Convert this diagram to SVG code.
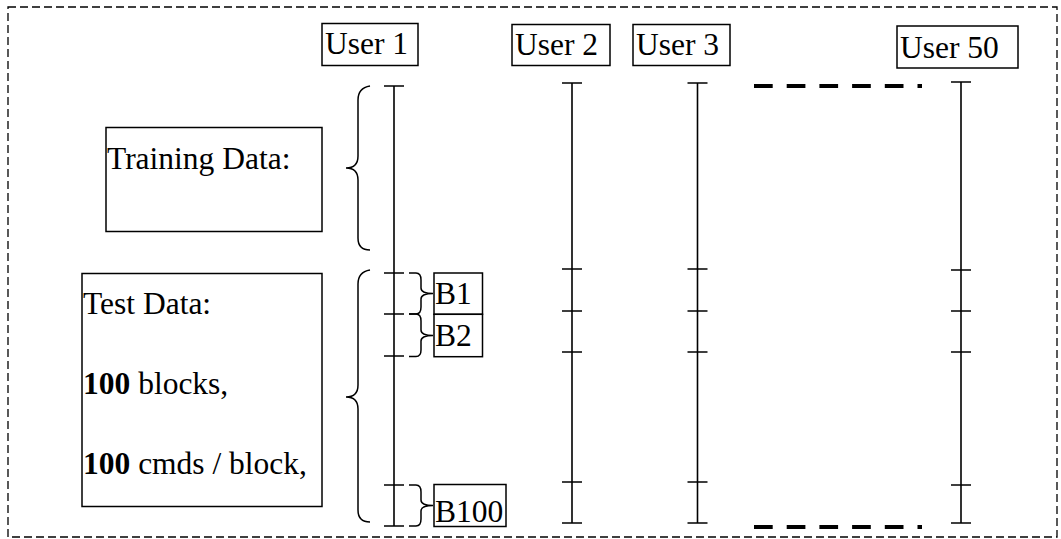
<svg xmlns="http://www.w3.org/2000/svg" width="1061" height="539" viewBox="0 0 1061 539">
<style>
text{font-family:"Liberation Serif","Times New Roman","DejaVu Serif",serif;font-size:31.5px;fill:#000}
.box{fill:#fff;stroke:#000;stroke-width:1.5}
.ln{fill:none;stroke:#000;stroke-width:1.6}
.br{fill:none;stroke:#000;stroke-width:1.5}
.thick{fill:none;stroke:#000;stroke-width:4;stroke-dasharray:18.7 14}
</style>
<rect x="8" y="7" width="1049" height="530" fill="none" stroke="#000" stroke-width="1.3" stroke-dasharray="8 4"/>
<g id="user1">
<rect class="box" x="322" y="23.5" width="96" height="42"/>
<text x="325" y="54">User 1</text>
</g>
<g id="user2">
<rect class="box" x="512" y="24.5" width="98" height="41"/>
<text x="515" y="55">User 2</text>
</g>
<g id="user3">
<rect class="box" x="633" y="24.5" width="97" height="41"/>
<text x="636" y="55">User 3</text>
</g>
<g id="user50">
<rect class="box" x="897" y="26" width="121" height="42"/>
<text x="900" y="57.5">User 50</text>
</g>
<g id="training">
<rect class="box" x="106" y="127.5" width="216" height="104"/>
<text x="107" y="168.5">Training Data:</text>
</g>
<g id="test">
<rect class="box" x="82" y="273.5" width="240" height="233"/>
<text x="83" y="313.5">Test Data:</text>
<text x="83" y="393.5"><tspan font-weight="bold">100</tspan> blocks,</text>
<text x="83" y="473.5"><tspan font-weight="bold">100</tspan> cmds / block,</text>
</g>
<g id="b1">
<rect class="box" x="434" y="273" width="48.5" height="41.3"/>
<text x="435" y="303.5">B1</text>
</g>
<g id="b2">
<rect class="box" x="434" y="314.3" width="48.5" height="42.4"/>
<text x="435" y="345.5">B2</text>
</g>
<g id="b100">
<rect class="box" x="434" y="484.5" width="72" height="42"/>
<text x="435" y="521.5">B100</text>
</g>
<g id="connectors">
<path class="ln" d="M394,86V526 M384,86H404 M384,526H404 M384,273H404 M384,314H404 M384,356H404 M384,485H404"/>
<path class="ln" d="M572,83V523 M562,83H582 M562,523H582 M562,269H582 M562,311H582 M562,352H582 M562,482H582"/>
<path class="ln" d="M697.5,83V523 M687.5,83H707.5 M687.5,523H707.5 M687.5,269H707.5 M687.5,311H707.5 M687.5,352H707.5 M687.5,482H707.5"/>
<path class="ln" d="M961,82V523 M951,82H971 M951,523H971 M951,270H971 M951,311H971 M951,352H971 M951,485H971"/>
<path class="br" d="M370,86 Q358,88 358,100 L358,156 Q358,168 346,168 Q358,168 358,180 L358,238 Q358,250 370,250"/>
<path class="br" d="M370,270 Q358,272 358,284 L358,385 Q358,397 346,397 Q358,397 358,409 L358,510 Q358,522 370,522"/>
<path class="br" d="M409,273 L416,273 Q421,273 421,280 L421,288 Q421,293.5 433,293.5 Q421,293.5 421,299 L421,307 Q421,314 416,314 L409,314"/>
<path class="br" d="M409,314 L416,314 Q421,314 421,321 L421,330 Q421,335.5 433,335.5 Q421,335.5 421,341 L421,350 Q421,356.5 416,356.5 L409,356.5"/>
<path class="br" d="M409,485 L416,485 Q421,485 421,492 L421,500 Q421,505.5 433,505.5 Q421,505.5 421,511 L421,519 Q421,526 416,526 L409,526"/>
<path class="thick" d="M754,86H922"/>
<path class="thick" d="M754,527H922"/>
</g>
</svg>
